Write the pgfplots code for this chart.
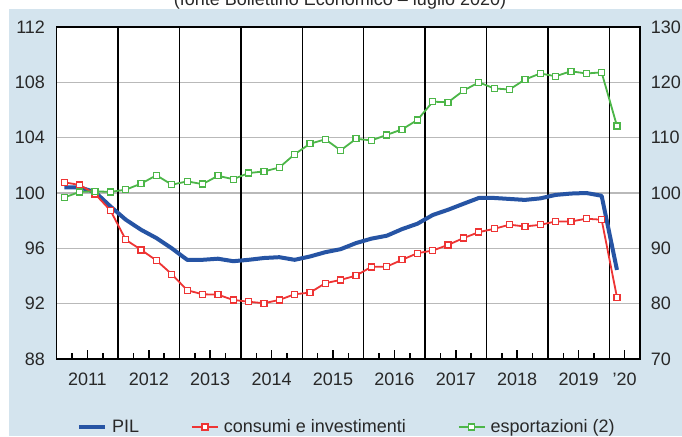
\documentclass[border=0pt]{standalone}
\usepackage{fontspec}
\setmainfont{Liberation Sans}
\usepackage{pgfplots}
\usepackage{pgfplotstable}
\pgfplotsset{compat=1.18}
\definecolor{bg}{RGB}{212,228,238}
\definecolor{pilblue}{RGB}{38,84,164}
\definecolor{consred}{RGB}{238,52,52}
\definecolor{expgreen}{RGB}{76,182,72}
\definecolor{gridgray}{RGB}{185,185,185}
\definecolor{txt}{RGB}{40,40,40}

\pgfplotstableread{
x pil cons exp
0.5 100.4 100.77 99.2
1.5 100.4 100.58 100.2
2.5 100.07 99.93 100.3
3.5 99.03 98.74 100.2
4.5 98.07 96.62 100.6
5.5 97.34 95.89 101.7
6.5 96.74 95.12 103.2
7.5 96.0 94.13 101.5
8.5 95.17 92.97 102.1
9.5 95.17 92.68 101.6
10.5 95.25 92.65 103.1
11.5 95.07 92.27 102.5
12.5 95.17 92.14 103.6
13.5 95.3 92.03 103.9
14.5 95.36 92.27 104.6
15.5 95.17 92.68 107.0
16.5 95.41 92.80 108.9
17.5 95.72 93.48 109.7
18.5 95.94 93.72 107.7
19.5 96.38 94.03 109.8
20.5 96.7 94.66 109.5
21.5 96.91 94.68 110.5
22.5 97.39 95.17 111.5
23.5 97.78 95.65 113.2
24.5 98.41 95.84 116.5
25.5 98.79 96.25 116.4
26.5 99.22 96.74 118.5
27.5 99.64 97.17 120.0
28.5 99.64 97.41 118.9
29.5 99.57 97.71 118.7
30.5 99.5 97.58 120.5
31.5 99.61 97.70 121.6
32.5 99.86 97.94 121.1
33.5 99.96 97.94 122.0
34.5 100.0 98.14 121.6
35.5 99.8 98.07 121.8
36.5 94.44 92.46 112.1
}\data

\begin{document}
\begin{tikzpicture}[font=\fontsize{18}{21}\selectfont]
\useasboundingbox (0,0) rectangle (682pt,436pt);
\fill[bg] (9pt,0pt) rectangle (682pt,426.5pt);
\node[anchor=base, text=txt] at (340pt,430pt) {(fonte Bollettino Economico – luglio 2020)};
\begin{axis}[
  at={(56.7pt,77pt)}, anchor=south west,
  width=583.3pt, height=332pt, scale only axis,
  xmin=0, xmax=38, ymin=88, ymax=112,
  axis background/.style={fill=white},
  axis line style={black, line width=1.5pt},
  xtick={2,6,10,14,18,22,26,30,34,37},
  xticklabels={2011,2012,2013,2014,2015,2016,2017,2018,2019,’20},
  minor xtick={1,3,5,7,9,11,13,15,17,19,21,23,25,27,29,31,33,35},
  xtick pos=lower, tick align=inside,
  major tick length=9pt, minor tick length=6pt,
  tick style={black, line width=1.5pt},
  extra x ticks={4,8,12,16,20,24,28,32,36},
  extra x tick labels={,,,,,,,,},
  extra x tick style={major tick length=0pt, grid=major, major grid style={black, line width=1.3pt}},
  ytick={88,92,96,100,104,108,112},
  ymajorgrids,
  major y grid style={gridgray, line width=1.5pt},
  ytick style={draw=none},
  xticklabel style={inner sep=0pt, yshift=-14pt, text=txt},
  yticklabel style={inner sep=0pt, xshift=-11.5pt, text=txt},
  /pgf/number format/assume math mode=true,
  legend columns=3,
  legend image code/.code={\draw[mark repeat=2,mark phase=2,#1] plot coordinates {(0pt,0pt) (13pt,0pt) (26pt,0pt)};},
  legend style={at={(0.0348,-0.2048)}, anchor=west, draw=none, fill=none,
    inner sep=0pt, outer sep=0pt, text=txt,
    nodes={inner sep=0pt},
    /tikz/every odd column/.append style={column sep=5pt},
    /tikz/every even column/.append style={column sep=52pt}},
]
\addplot[pilblue, line width=4pt, line join=round, no markers] table[x=x,y=pil]{\data};
\addlegendentry{PIL}
\addplot[consred, line width=1.8pt, mark=square*, mark size=3pt, mark options={fill=white, line width=1.3pt, solid}] table[x=x,y=cons]{\data};
\addlegendentry{consumi e investimenti}
\addlegendimage{expgreen, line width=1.8pt, mark=square*, mark size=3pt, mark options={fill=white, line width=1.3pt, solid}}
\addlegendentry{esportazioni (2)}
\end{axis}
\begin{axis}[
  at={(56.7pt,77pt)}, anchor=south west,
  width=583.3pt, height=332pt, scale only axis,
  xmin=0, xmax=38, ymin=70, ymax=130,
  axis x line=none, axis y line*=right,
  yticklabel pos=right,
  axis line style={-, black, line width=1.5pt},
  ytick={70,80,90,100,110,120,130},
  ytick style={draw=none},
  yticklabel style={inner sep=0pt, xshift=10.7pt, text=txt},
  /pgf/number format/assume math mode=true,
]
\addplot[expgreen, line width=1.8pt, mark=square*, mark size=3pt, mark options={fill=white, line width=1.3pt, solid}] table[x=x,y=exp]{\data};
\end{axis}
\end{tikzpicture}
\end{document}
